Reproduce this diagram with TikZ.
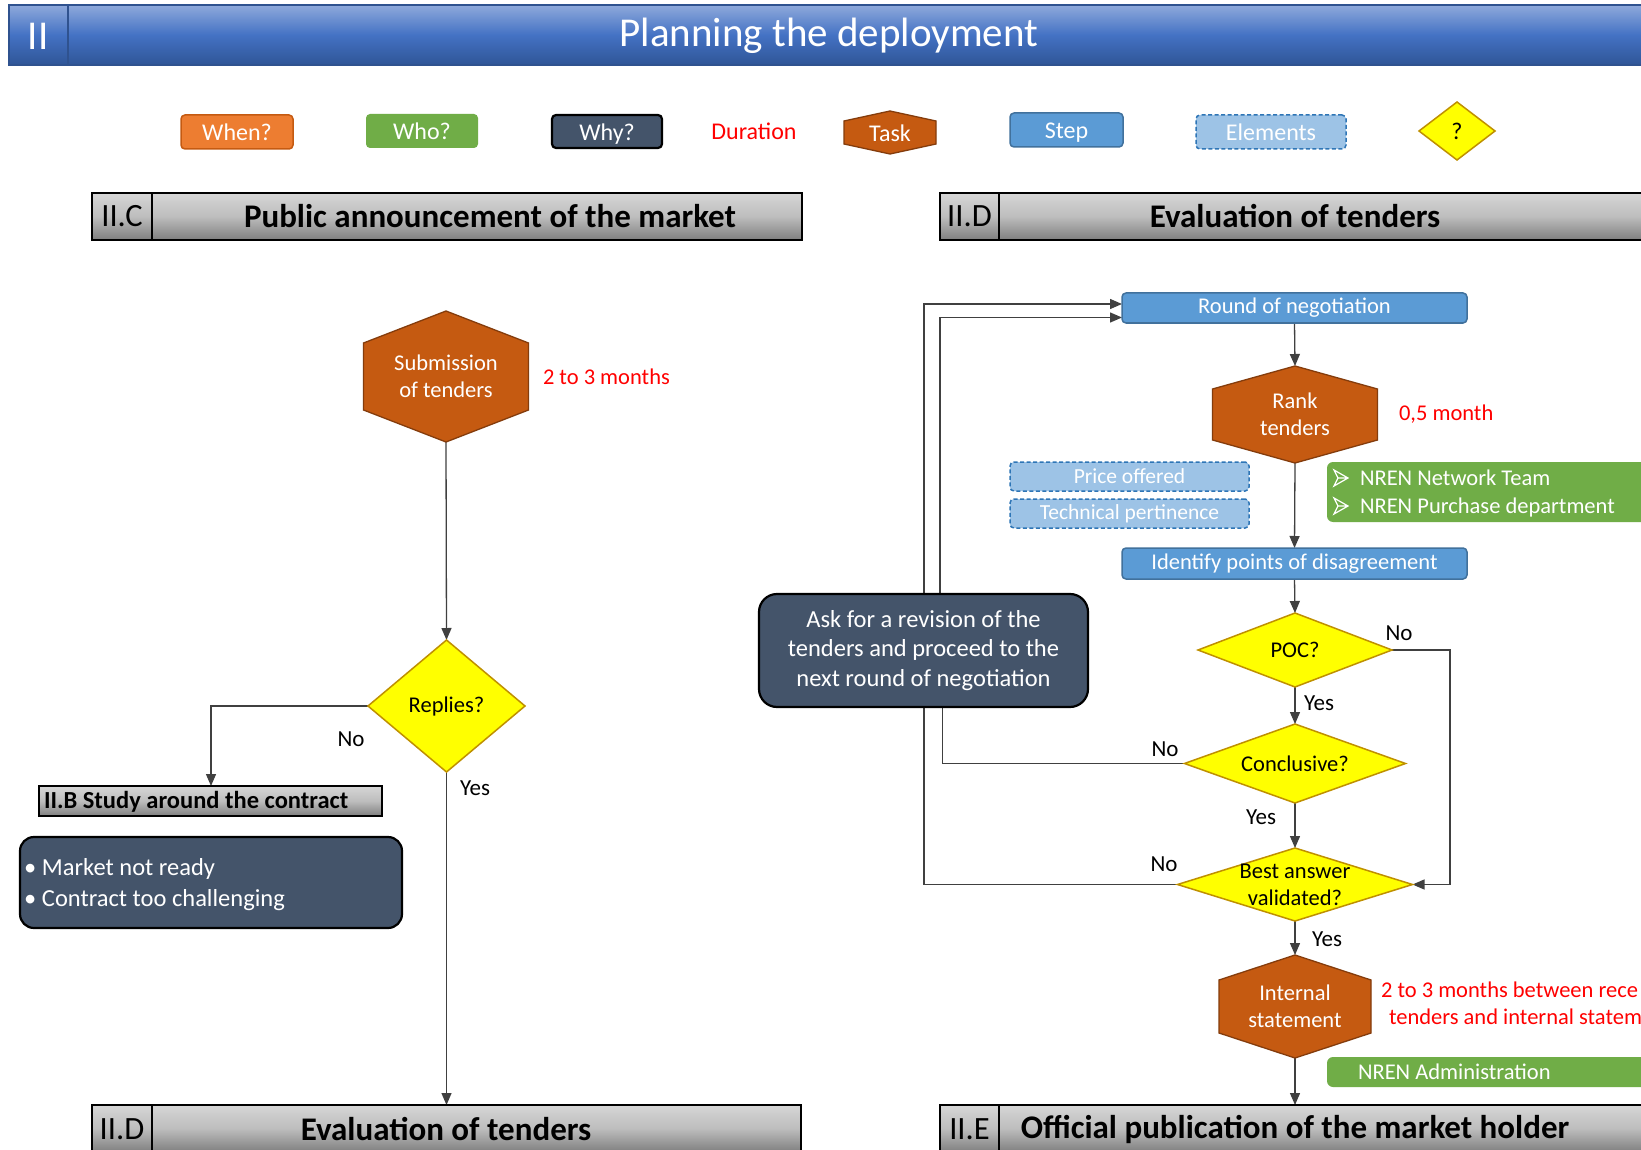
\documentclass[tikz,border=0pt]{standalone}
\usepackage{fontspec}
\setmainfont{Carlito}
\usetikzlibrary{shapes.geometric,arrows.meta,calc}

\definecolor{barTop}{HTML}{8EA9DB}
\definecolor{barMid}{HTML}{4472C4}
\definecolor{barBot}{HTML}{2F5597}
\definecolor{barLine}{HTML}{2F528F}
\definecolor{hdTop}{HTML}{D6D6D6}
\definecolor{hdMid}{HTML}{BDBDBD}
\definecolor{hdBot}{HTML}{7F7F7F}
\definecolor{whenFill}{HTML}{ED7D31}
\definecolor{whenLine}{HTML}{C55A11}
\definecolor{whoFill}{HTML}{70AD47}
\definecolor{whyFill}{HTML}{44546A}
\definecolor{taskFill}{HTML}{C55A11}
\definecolor{taskLine}{HTML}{843C0C}
\definecolor{stepFill}{HTML}{5B9BD5}
\definecolor{stepLine}{HTML}{41719C}
\definecolor{elemFill}{HTML}{9DC3E6}
\definecolor{elemLine}{HTML}{2E75B6}
\definecolor{qFill}{HTML}{FFFF00}
\definecolor{qLine}{HTML}{BF9000}
\definecolor{durRed}{HTML}{FF0000}
\definecolor{wireCol}{HTML}{404040}

\newcommand\fsz[2]{\fontsize{#1}{#2}\selectfont}
% hexagonal task outline: centre x, centre y, width, height, shoulder depth
\newcommand\taskhex[5]{%
  \filldraw[taskshape] ({#1-#3/2},{#2-#4/2+#5}) -- (#1,{#2-#4/2}) -- ({#1+#3/2},{#2-#4/2+#5})
    -- ({#1+#3/2},{#2+#4/2-#5}) -- (#1,{#2+#4/2}) -- ({#1-#3/2},{#2+#4/2-#5}) -- cycle;}
% hollow arrowhead bullet: left x, centre y
\newcommand\arrowbullet[2]{%
  \draw[white, line width=1.2pt, line join=miter] (#1,{#2-8}) -- ({#1+14},#2) -- (#1,{#2+8}) -- ({#1+4},#2) -- cycle
    ({#1+4},#2) -- ({#1+14},#2);}

\pgfdeclarelayer{canvas}
\pgfdeclarelayer{wires}
\pgfsetlayers{canvas,wires,main}

\tikzset{
  base/.style={inner sep=0pt, outer sep=0pt},
  wire/.style={draw=wireCol, line width=1.3pt},
  arr/.style={wire, -{Triangle[length=12pt,width=10pt]}},
  stepbox/.style={base, rectangle, rounded corners=4pt, fill=stepFill, draw=stepLine, line width=1.5pt, text=white, font=\fsz{22.5}{27}},
  elembox/.style={base, rectangle, rounded corners=4pt, fill=elemFill, draw=elemLine, line width=1.5pt, dash pattern=on 4pt off 2.5pt, text=white, font=\fsz{21.5}{26}},
  whobox/.style={base, rectangle, rounded corners=6pt, fill=whoFill},
  whybox/.style={base, rectangle, rounded corners=14pt, fill=whyFill, draw=black, line width=2.2pt},
  querybox/.style={base, diamond, fill=qFill, draw=qLine, line width=1.5pt},
  taskshape/.style={fill=taskFill, draw=taskLine, line width=1.3pt},
  whitetext/.style={base, text=white, align=center, font=\fsz{22.5}{27}},
  darktext/.style={base, text=black, align=center, font=\fsz{22.5}{27}},
  lbl/.style={base, text=black, font=\fsz{23}{27}},
  duration/.style={base, text=durRed, font=\fsz{22.5}{27}},
  headbox/.style={base, rectangle, draw=black, line width=2pt, top color=hdTop, bottom color=hdBot, middle color=hdMid},
  headnum/.style={base, text=black, font=\fsz{32.5}{36}},
  headtitle/.style={base, text=black, font=\bfseries\fsz{33}{36}},
  legendfont/.style={font=\fsz{24}{28}, text height=18pt, text depth=0pt},
}

\begin{document}
\begin{tikzpicture}[x=1pt,y=-1pt]
\useasboundingbox (0,0) rectangle (1641,1150);
\begin{pgfonlayer}{canvas}
  \fill[white] (0,0) rectangle (1641,1150);
\end{pgfonlayer}
\clip (0,0) rectangle (1641,1150);

% ---- title bar
\node[base, anchor=north west, minimum width=1700pt, minimum height=60pt,
      top color=barTop, bottom color=barBot, middle color=barMid,
      draw=barLine, line width=1.5pt] (bar) at (9,5) {};
\draw[barLine, line width=1.2pt] (68,5) -- (68,65);
\node[base, text=white, font=\fsz{41}{48}] (ttlNum) at (38,36) {II};
\node[base, text=white, font=\fsz{41}{48}] (ttl) at (829,36) {Planning the deployment};

% ---- legend
\node[base, rectangle, rounded corners=4pt, fill=whenFill, draw=whenLine, line width=1.5pt,
      minimum width=112pt, minimum height=34pt, text=white, legendfont] (lgWhen) at (237,132) {When?};
\node[whobox, rounded corners=4pt, minimum width=112pt, minimum height=34pt, text=white, legendfont] (lgWho) at (422,131) {Who?};
\node[whybox, rounded corners=4pt, minimum width=110pt, minimum height=33pt, text=white, legendfont] (lgWhy) at (607,131.5) {Why?};
\node[duration, legendfont] (lgDur) at (754,131) {Duration};
\taskhex{890}{132.5}{92}{43}{10}
\node[whitetext, legendfont, minimum width=92pt, minimum height=43pt] (lgTask) at (890,132.5) {Task};
\node[stepbox, legendfont, minimum width=113pt, minimum height=34pt] (lgStep) at (1066.5,130) {Step};
\node[elembox, legendfont, minimum width=150pt, minimum height=34pt] (lgElem) at (1271,132) {Elements};
\node[querybox, minimum width=76pt, minimum height=58pt] (lgQ) at (1457,131) {};
\node[darktext, legendfont] (lgQT) at (lgQ) {?};

% ---- section headers
\node[headbox, anchor=north west, minimum width=710pt, minimum height=47pt] (hdC) at (92,193) {};
\draw[line width=2pt] (152,193) -- (152,240);
\node[headnum] (hdCnum) at (122,216.5) {II.C};
\node[headtitle] (hdCtitle) at (490,216.5) {Public announcement of the market};

\node[headbox, anchor=north west, minimum width=760pt, minimum height=47pt] (hdD) at (940,193) {};
\draw[line width=2pt] (999,193) -- (999,240);
\node[headnum] (hdDnum) at (969.5,216.5) {II.D};
\node[headtitle] (hdDtitle) at (1295,216.5) {Evaluation of tenders};

\node[headbox, anchor=north west, minimum width=709pt, minimum height=47pt] (hdD2) at (92,1105) {};
\draw[line width=2pt] (152,1105) -- (152,1152);
\node[headnum] (hdD2num) at (122,1129) {II.D};
\node[headtitle] (hdD2title) at (446,1129) {Evaluation of tenders};

\node[headbox, anchor=north west, minimum width=760pt, minimum height=47pt] (hdE) at (940,1105) {};
\draw[line width=2pt] (999,1105) -- (999,1152);
\node[headnum] (hdEnum) at (969.5,1129) {II.E};
\node[headtitle] (hdEtitle) at (1295,1129) {Official publication of the market holder};

% ---- public announcement column
\taskhex{446}{376.5}{165}{131}{32}
\node[whitetext, minimum width=165pt, minimum height=131pt] (sub) at (446,376.5) {Submission\\of tenders};
\node[duration, anchor=west] (subDur) at (543,377) {2 to 3 months};
\node[querybox, minimum width=157pt, minimum height=132pt] (replies) at (446.5,706) {};
\node[darktext] (repliesT) at (replies) {Replies?};
\node[lbl] (repNo) at (351,739) {No};
\node[lbl] (repYes) at (475,788) {Yes};
\node[headbox, anchor=north west, minimum width=343pt, minimum height=30pt] (iib) at (39,786) {};
\node[base, anchor=west, font=\bfseries\fsz{24.5}{28}] (iibT) at (44,802) {II.B Study around the contract};
\node[whybox, anchor=north west, minimum width=382pt, minimum height=91pt] (reasons) at (20,837) {};
\node[base, anchor=west, text=white, font=\fsz{24.5}{29}] (reason1) at (24,869) {\makebox[18pt][l]{\textbullet}Market not ready};
\node[base, anchor=west, text=white, font=\fsz{24.5}{29}] (reason2) at (24,900) {\makebox[18pt][l]{\textbullet}Contract too challenging};

% ---- evaluation column
\node[stepbox, minimum width=345pt, minimum height=30pt] (round) at (1294.5,308) {Round of negotiation};
\taskhex{1295}{414.5}{165}{97}{23}
\node[whitetext, minimum width=165pt, minimum height=97pt] (rank) at (1295,414.5) {Rank\\tenders};
\node[duration, anchor=west] (rankDur) at (1399,414) {0,5 month};
\node[elembox, minimum width=239pt, minimum height=29pt] (price) at (1129.5,476.5) {Price offered};
\node[elembox, minimum width=239pt, minimum height=29pt] (tech) at (1129.5,513.5) {Technical pertinence};
\node[whobox, anchor=north west, minimum width=373pt, minimum height=60pt] (team) at (1327,462) {};
\arrowbullet{1334}{478}
\arrowbullet{1334}{506}
\node[base, anchor=west, text=white, font=\fsz{22.5}{27}] (team1) at (1360,478) {NREN Network Team};
\node[base, anchor=west, text=white, font=\fsz{22.5}{27}] (team2) at (1360,507) {NREN Purchase department};
\node[stepbox, minimum width=345pt, minimum height=31pt] (ident) at (1294.5,563.5) {Identify points of disagreement};

\node[whybox, rounded corners=18pt, minimum width=329pt, minimum height=113pt, text=white, align=center,
      font=\fsz{24.5}{29.5}] (ask) at (923.5,650.5)
  {Ask for a revision of the\\tenders and proceed to the\\next round of negotiation};

\node[querybox, minimum width=194pt, minimum height=74pt] (poc) at (1295,650) {};
\node[darktext] (pocT) at (poc) {POC?};
\node[querybox, minimum width=221pt, minimum height=79pt] (concl) at (1295,763.5) {};
\node[darktext] (conclT) at (concl) {Conclusive?};
\node[querybox, minimum width=235pt, minimum height=73pt] (best) at (1295,884.5) {};
\node[darktext] (bestT) at (best) {Best answer\\validated?};

\node[lbl] (pocNo) at (1399,633) {No};
\node[lbl] (pocYes) at (1319,703) {Yes};
\node[lbl] (conclNo) at (1165,749) {No};
\node[lbl] (conclYes) at (1261,817) {Yes};
\node[lbl] (bestNo) at (1164,864) {No};
\node[lbl] (bestYes) at (1327,939) {Yes};

\taskhex{1295}{1006.5}{152}{103}{25}
\node[whitetext, minimum width=152pt, minimum height=103pt] (intl) at (1295,1006.5) {Internal\\statement};
\node[duration, anchor=west] (intlDurA) at (1381,990) {2 to 3 months between rece};
\node[duration, anchor=west] (intlDurB) at (1389,1017) {tenders and internal statem};
\node[whobox, anchor=north west, minimum width=373pt, minimum height=30pt] (admin) at (1327,1057) {};
\node[base, anchor=west, text=white, font=\fsz{22.5}{27}] (adminT) at (1358,1072) {NREN Administration};

% ---- connectors
\coordinate (loopOut) at (924,304);
\begin{pgfonlayer}{wires}
  \draw[arr] (sub.south) -- (replies.north);
  \draw[arr] (replies.south) -- (replies.south |- hdD2.north);
  \draw[arr] (replies.west) -| ($(iib.north west)+(172,0)$);

  \draw[arr] (round.south) -- (rank.north);
  \draw[arr] (rank.south) -- (ident.north);
  \draw[arr] (ident.south) -- (poc.north);
  \draw[arr] (poc.south) -- (concl.north);
  \draw[arr] (concl.south) -- (best.north);
  \draw[arr] (best.south) -- (intl.north);
  \draw[arr] (intl.south) -- (intl.south |- hdE.north);
  \draw[arr] (poc.east) -- ++(58,0) |- (best.east);
  \draw[arr] (best.west) -| (loopOut) -- (loopOut -| round.west);
  \draw[wire] (concl.west) -| ($(ask.south)+(19,0)$);
  \draw[arr] ($(ask.north)+(16.5,0)$) |- ($(round.west)+(0,9.5)$);
\end{pgfonlayer}
\end{tikzpicture}
\end{document}
